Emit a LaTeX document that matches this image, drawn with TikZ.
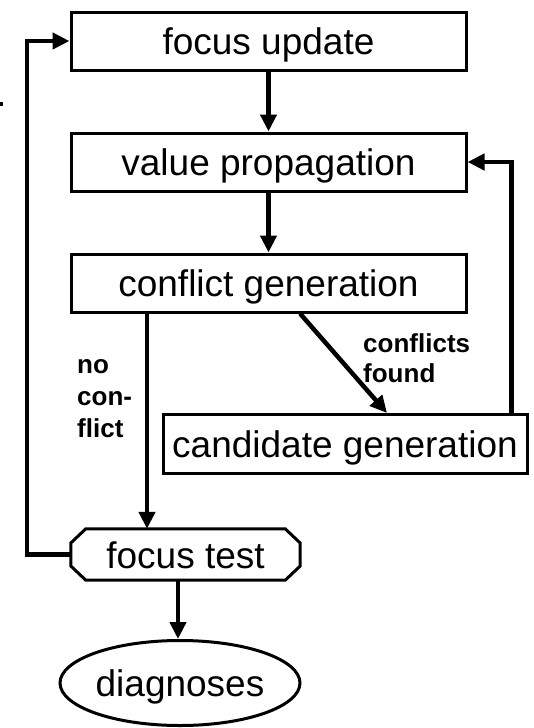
\documentclass[tikz,border=0pt]{standalone}
\usepackage{fontspec}
\setmainfont{Liberation Sans}
\usetikzlibrary{arrows.meta,shapes.geometric,calc}

\begin{document}
\begin{tikzpicture}[x=1pt,y=-1pt,
  stage/.style={draw, line width=3pt, rectangle, inner sep=0pt,
    minimum width=395pt, minimum height=58pt,
    font=\fontsize{37}{44}\selectfont, text height=27pt, text depth=0pt},
  bare/.style={rectangle, inner sep=0pt,
    font=\fontsize{37}{44}\selectfont, text height=27pt, text depth=0pt},
  flow/.style={line width=4.5pt, -{Triangle[length=17pt,width=16pt]}},
  outline/.style={line width=3pt, line join=miter},
  lbl/.style={font=\fontsize{26}{32}\selectfont\bfseries, anchor=base west, inner sep=0pt}]
\useasboundingbox (0,0) rectangle (533,728);

% main pipeline
\node[stage] (fu) at (268.5,41) {focus update};
\node[stage] (vp) at (268.5,162) {value propagation};
\node[stage] (cg) at (268.5,283) {conflict generation};
\node[stage, minimum width=364pt, minimum height=59pt] (cand) at (345,444) {candidate generation};

% focus test: rectangle with chamfered left and right ends
\node[bare, minimum width=229pt, minimum height=51pt] (ft) at (185.5,554.5) {focus test};
\draw[outline]
  ($(ft.north west)+(15,0)$) -- ($(ft.north east)+(-15,0)$)
  -- ($(ft.east)+(0,-11.5)$) -- ($(ft.east)+(0,11.5)$)
  -- ($(ft.south east)+(-15,0)$) -- ($(ft.south west)+(15,0)$)
  -- ($(ft.west)+(0,11.5)$) -- ($(ft.west)+(0,-11.5)$) -- cycle;

% result
\node[draw, ellipse, line width=3pt, inner sep=0pt, minimum width=240pt, minimum height=85pt,
  font=\fontsize{37}{44}\selectfont, text height=27pt, text depth=0pt] (diag) at (180,683) {diagnoses};

% connectors
\draw[flow] (fu.south) -- (vp.north);
\draw[flow] (vp.south) -- (cg.north);
\draw[flow] ([xshift=31.5pt]cg.south) -- ([xshift=42pt]cand.north);
\draw[flow] ([xshift=-121.5pt]cg.south) -- ([xshift=-121.5pt]cg.south |- ft.north);
\draw[flow] ([xshift=-17pt]cand.north east) |- (vp.east);
\draw[flow] (ft.west) -- ++(-44,0) |- (fu.west);
\draw[flow] ([xshift=-7.5pt]ft.south) -- ([xshift=-2pt]diag.north);

% edge labels
\node[lbl] (nc1) at (77,373) {no};
\node[lbl] (nc2) at (77,405) {con-};
\node[lbl] (nc3) at (77,437) {flict};
\node[lbl] (cf1) at (363,352) {conflicts};
\node[lbl] (cf2) at (363,382) {found};

% small mark on the left margin
\fill (0,102) rectangle (3,106);
\end{tikzpicture}
\end{document}
